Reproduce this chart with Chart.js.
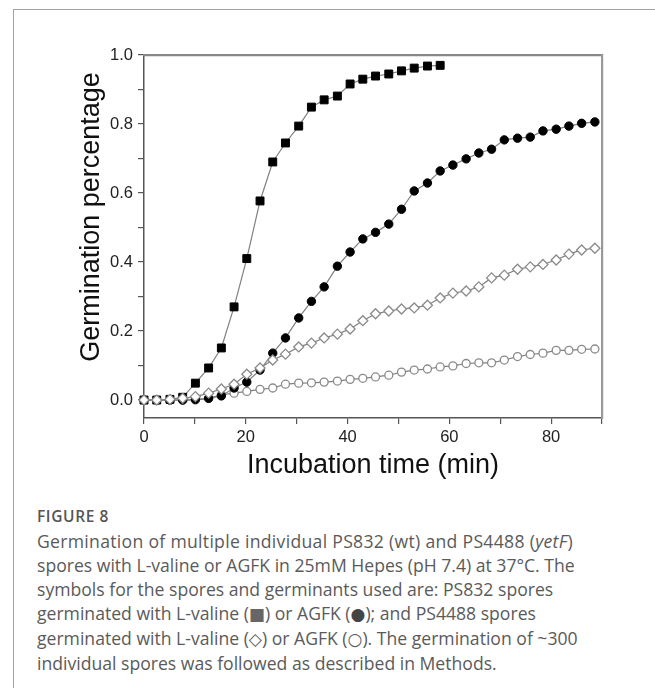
<!DOCTYPE html>
<html>
<head>
<meta charset="utf-8">
<script src="https://cdn.jsdelivr.net/npm/chart.js@4.4.1/dist/chart.umd.min.js"></script>
<style>
  html, body { margin: 0; padding: 0; background: #fff; width: 655px; height: 688px; overflow: hidden; }
  #frame { position: absolute; left: 13px; top: 9px; width: 700px; height: 700px;
           border-left: 1.5px solid #a3a3a3; border-top: 1.5px solid #a3a3a3; }
  #wrap { position: absolute; left: 0; top: 0; width: 655px; height: 490px; }
  #fig { position: absolute; left: 37px; top: 506px; font-family: "Open Sans", sans-serif;
         font-size: 15.5px; font-weight: 600; color: #555; letter-spacing: 0.6px; line-height: 20px; }
  #cap { position: absolute; left: 37px; top: 529px; font-family: "Open Sans", sans-serif;
         font-size: 17.6px; color: #5a5a5a; line-height: 24px; white-space: nowrap; font-weight: 400; }
  .sym { font-family: "DejaVu Sans", sans-serif; font-size: 17px; }
</style>
</head>
<body>
<div id="frame"></div>
<div id="wrap"><canvas id="c" width="655" height="490"></canvas></div>
<div id="fig">FIGURE 8</div>
<div id="cap"><span style="letter-spacing:0.3px">Germination of multiple individual PS832 (wt) and PS4488 (<i>yetF</i>)</span><br>spores with L-valine or AGFK in 25mM Hepes (pH 7.4) at 37°C. The<br>symbols for the spores and germinants used are: PS832 spores<br>germinated with L-valine (<span class="sym" style="color:#666">■</span>) or AGFK (<span class="sym" style="color:#444">●</span>); and PS4488 spores<br>germinated with L-valine (<span class="sym">◇</span>) or AGFK (<span class="sym">○</span>). The germination of ~300<br>individual spores was followed as described in Methods.</div>
<script>
// Time points (min)
const time = [0, 2.5, 5.1, 7.6, 10.1, 12.7, 15.2, 17.7, 20.2, 22.8, 25.3, 27.8, 30.4, 32.9, 35.4, 38.0,
              40.5, 43.0, 45.5, 48.1, 50.6, 53.1, 55.7, 58.2, 60.7, 63.3, 65.8, 68.3, 70.8, 73.4,
              75.9, 78.4, 81.0, 83.5, 86.0, 88.6];
// PS832 + L-valine (filled squares)
const ps832Valine = [0, 0, 0.002, 0.008, 0.049, 0.093, 0.151, 0.27, 0.41, 0.577, 0.69, 0.745,
                     0.794, 0.849, 0.870, 0.881, 0.916, 0.930, 0.939, 0.945, 0.954, 0.962, 0.968, 0.970];
// PS832 + AGFK (filled circles)
const ps832Agfk = [0, 0, 0, 0, 0.002, 0.005, 0.012, 0.035, 0.052, 0.087, 0.136, 0.180, 0.238, 0.286,
                   0.328, 0.388, 0.429, 0.467, 0.486, 0.510, 0.553, 0.606, 0.629, 0.664, 0.681, 0.699,
                   0.716, 0.727, 0.754, 0.759, 0.762, 0.780, 0.785, 0.794, 0.802, 0.806];
// PS4488 + L-valine (open diamonds)
const ps4488Valine = [0, 0, 0.002, 0.005, 0.010, 0.020, 0.032, 0.046, 0.075, 0.093, 0.116, 0.133,
                      0.154, 0.165, 0.180, 0.191, 0.206, 0.230, 0.250, 0.258, 0.264, 0.267, 0.275,
                      0.296, 0.310, 0.316, 0.328, 0.354, 0.362, 0.379, 0.386, 0.393, 0.406, 0.423,
                      0.435, 0.440];
// PS4488 + AGFK (open circles)
const ps4488Agfk = [0, 0, 0, 0, 0, 0.005, 0.015, 0.020, 0.025, 0.031, 0.035, 0.046, 0.049, 0.050,
                    0.052, 0.055, 0.060, 0.063, 0.067, 0.072, 0.081, 0.087, 0.090, 0.096, 0.099,
                    0.106, 0.108, 0.108, 0.116, 0.126, 0.132, 0.136, 0.144, 0.144, 0.147, 0.148];
// Tick marks (every value) and labelled ticks
const xTickValues = [0, 10, 20, 30, 40, 50, 60, 70, 80, 90];
const xTickLabels = [0, 20, 40, 60, 80];
const yTickValues = [0, 0.1, 0.2, 0.3, 0.4, 0.5, 0.6, 0.7, 0.8, 0.9, 1.0];
const yTickLabels = ["0.0", "0.2", "0.4", "0.6", "0.8", "1.0"];
const xTitle = "Incubation time (min)";
const yTitle = "Germination percentage";

const pts = vals => vals.map((v, i) => ({x: time[i], y: v}));
const FONT = "'Liberation Sans', Arial, sans-serif";
const lineCol = "#808080";

const yTitlePlugin = {
  id: 'yTitle',
  afterDraw(chart) {
    const ctx = chart.ctx;
    ctx.save();
    ctx.translate(92, 217);
    ctx.rotate(-Math.PI / 2);
    ctx.font = "27px " + FONT;
    ctx.fillStyle = "#111";
    ctx.textAlign = "center";
    ctx.textBaseline = "middle";
    ctx.fillText(yTitle, 0, 0);
    ctx.restore();
  }
};

new Chart(document.getElementById('c'), {
  type: 'line',
  data: {
    datasets: [
      { label: 'PS4488 L-valine', data: pts(ps4488Valine), borderColor: lineCol, borderWidth: 1.2,
        pointStyle: 'rectRot', pointRadius: 5, pointBackgroundColor: '#fff', pointBorderColor: '#8a8a8a',
        pointBorderWidth: 1.3, clip: false },
      { label: 'PS832 AGFK', data: pts(ps832Agfk), borderColor: lineCol, borderWidth: 1.2,
        pointStyle: 'circle', pointRadius: 4.2, pointBackgroundColor: '#000', pointBorderColor: '#000',
        pointBorderWidth: 1, clip: false },
      { label: 'PS832 L-valine', data: pts(ps832Valine), borderColor: lineCol, borderWidth: 1.2,
        pointStyle: 'rect', pointRadius: 5.6, pointBackgroundColor: '#000', pointBorderColor: '#000',
        pointBorderWidth: 1, clip: false },
      { label: 'PS4488 AGFK', data: pts(ps4488Agfk), borderColor: lineCol, borderWidth: 1.2,
        pointStyle: 'circle', pointRadius: 4, pointBackgroundColor: '#fff', pointBorderColor: '#8a8a8a',
        pointBorderWidth: 1.3, clip: false }
    ]
  },
  options: {
    responsive: false,
    animation: false,
    layout: { padding: { top: 55, right: 53, left: 0, bottom: 0 } },
    plugins: { legend: { display: false }, tooltip: { enabled: false } },
    elements: { line: { tension: 0 } },
    scales: {
      x: {
        type: 'linear', position: 'bottom', min: 0, max: 90,
        afterFit: s => { s.height = 72; },
        afterBuildTicks: s => { s.ticks = xTickValues.map(v => ({ value: v })); },
        ticks: {
          autoSkip: false, maxRotation: 0, padding: 4,
          font: { family: FONT, size: 16.5, lineHeight: 1.2 }, color: '#222',
          callback: v => xTickLabels.includes(v) ? String(v) : ''
        },
        grid: { drawOnChartArea: false, drawTicks: true, tickLength: 6, color: '#555', lineWidth: 1.2 },
        border: { display: true, color: '#555', width: 1.5 },
        title: { display: true, text: xTitle, color: '#111',
                 font: { family: FONT, size: 27, lineHeight: 1 }, padding: { top: 0, bottom: 10.5 } }
      },
      y: {
        type: 'linear', position: 'left', min: -0.052, max: 1.0,
        afterFit: s => { s.width = 144; },
        afterBuildTicks: s => { s.ticks = yTickValues.map(v => ({ value: v })); },
        ticks: {
          autoSkip: false, padding: 5,
          font: { family: FONT, size: 16.5, lineHeight: 1.2 }, color: '#222',
          callback: v => { const l = v.toFixed(1); return yTickLabels.includes(l) ? l : ''; }
        },
        grid: { drawOnChartArea: false, drawTicks: true, tickLength: 6, color: '#555', lineWidth: 1.2 },
        border: { display: true, color: '#555', width: 1.5 }
      },
      x2: {
        type: 'linear', position: 'top', min: 0, max: 90,
        afterFit: s => { s.height = 0; },
        ticks: { display: false },
        grid: { display: false, drawTicks: false },
        border: { display: true, color: '#888', width: 2.2 }
      },
      y2: {
        type: 'linear', position: 'right', min: -0.052, max: 1.0,
        afterFit: s => { s.width = 0; },
        ticks: { display: false },
        grid: { display: false, drawTicks: false },
        border: { display: true, color: '#999', width: 2.2 }
      }
    }
  },
  plugins: [yTitlePlugin]
});
</script>
</body>
</html>
